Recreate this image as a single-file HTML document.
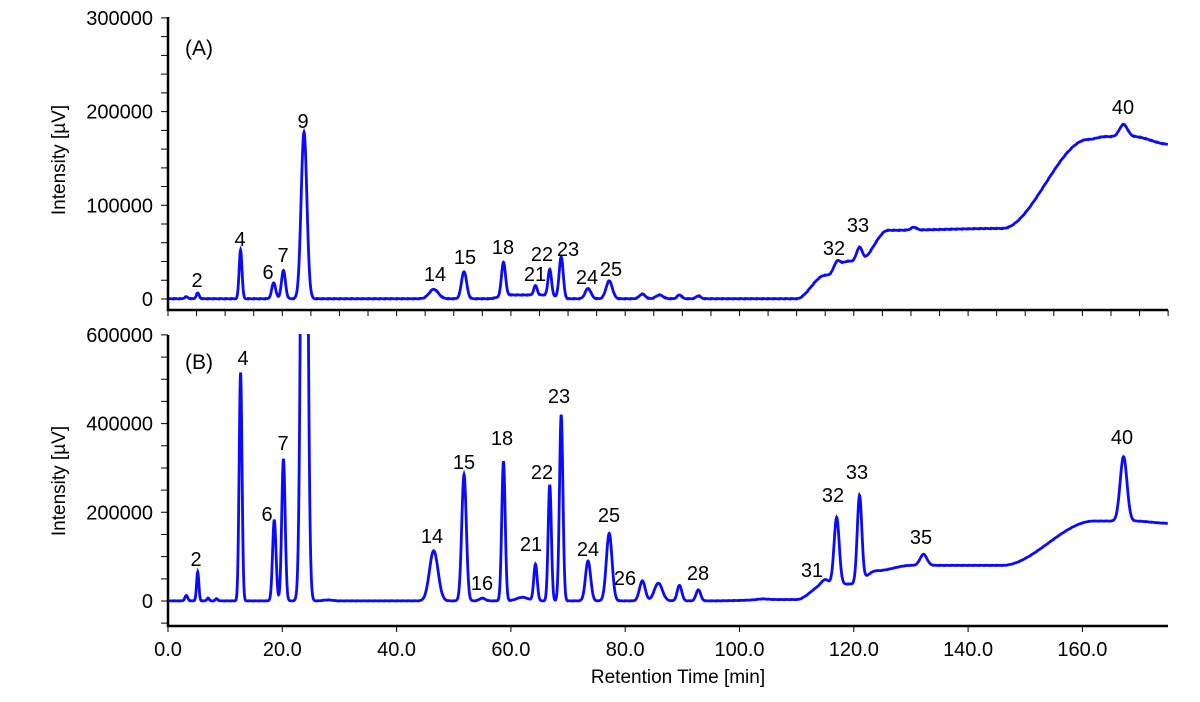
<!DOCTYPE html>
<html><head><meta charset="utf-8"><style>
body{margin:0;background:#fff;}
svg text{font-family:"Liberation Sans",Tahoma,sans-serif;fill:#000;}
</style></head><body>
<svg id="s" width="1200" height="697" xmlns="http://www.w3.org/2000/svg">
<defs>
<clipPath id="ca"><rect x="168" y="10" width="1000" height="300"/></clipPath>
<clipPath id="cb"><rect x="168" y="334" width="1000" height="292"/></clipPath>
</defs>
<g id="g"></g>
</svg>
<script>
var X0=168,PX=114.3/20;
function xp(t){return X0+t*PX;}
function ya(v){return 299-v*0.000937;}
function yb(v){return 601-v*(88.7/200000);}
function smooth(a,b,t){if(t<=a)return 0;if(t>=b)return 1;var u=(t-a)/(b-a);return u*u*(3-2*u);}
function g(t,c,h,s){var d=(t-c)/s;return h*Math.exp(-0.5*d*d);}
var pkA=[[3.2,2000,.3],[5.2,6000,.25],[12.7,52000,.25],[18.5,17000,.35],[20.2,30000,.35],[23.8,178000,.5],[46.5,10000,.8],[51.8,29000,.45],[58.7,36000,.35],[64.3,10000,.3],[66.8,28000,.3],[68.8,44000,.35],[73.5,11000,.5],[77.2,19000,.55],[83,5000,.5],[86,4000,.6],[89.5,4000,.4],[92.8,3000,.4],[117,11000,.6],[121,15000,.5],[130.5,3000,.5],[167.2,13000,.7]];
var pkB=[[3.2,12000,.25],[5.2,65000,.2],[7,6000,.2],[8.5,5000,.2],[12.7,515000,.25],[18.6,183000,.3],[20.2,320000,.3],[23.85,2200000,.45],[46.5,113000,.75],[51.8,285000,.4],[55,6000,.5],[58.7,315000,.3],[62,8000,1],[64.3,82000,.3],[66.8,262000,.28],[68.8,420000,.3],[73.5,90000,.45],[77.2,152000,.5],[83,45000,.5],[85.8,40000,.7],[89.5,35000,.4],[92.8,25000,.4],[104,2000,1],[115,10000,.6],[117,150000,.45],[121,195000,.4],[132.2,25000,.6],[167.2,145000,.6]];
function baseA(t){var b=0;b+=4000*smooth(56,60,t)*(1-smooth(66,70,t));
b+=25000*smooth(110,115,t);b+=15000*smooth(116,119,t);b+=33000*smooth(121,126,t);
b+=2000*smooth(126,146,t);b+=95000*smooth(146,161,t);b+=3000*smooth(161,164,t);b-=8000*smooth(169,175,t);return b;}
function baseB(t){var b=2000*smooth(26,28,t)*(1-smooth(28,30,t));b+=3000*smooth(95,108,t);
b+=35000*smooth(110,115,t);b+=30000*smooth(120,124,t);b+=12000*smooth(124,130,t);b+=100000*smooth(146,162,t);b-=5000*smooth(169,175,t);return b;}
function path(pk,base,yf){var d="";for(var t=0;t<=175;t+=0.05){var v=base(t);for(var i=0;i<pk.length;i++){var p=pk[i];if(Math.abs(t-p[0])<6*p[2])v+=g(t,p[0],p[1],p[2]);}
v+=((t*7919)%1)*600;var y=yf(v);if(y<-50)y=-50;d+=(d?"L":"M")+xp(t).toFixed(2)+" "+y.toFixed(2);}return d;}
var h="";
h+='<path d="'+path(pkA,baseA,ya)+'" fill="none" stroke="#0a0aff" stroke-width="2.8" clip-path="url(#ca)"/>';
h+='<path d="'+path(pkB,baseB,yb)+'" fill="none" stroke="#0a0aff" stroke-width="2.8" clip-path="url(#cb)"/>';
h+='<path d="M168 17V310H1168M168 335V626H1168" fill="none" stroke="#000" stroke-width="2.5"/>';
var tk="";
for(var v=0;v<=300000;v+=20000){var y=ya(v);tk+="M161 "+y+"H168";}
for(var v=-50000;v<=600000;v+=50000){var y=yb(v);tk+="M161 "+y+"H168";}
for(var t=0;t<=175;t+=5){var x=xp(t);tk+="M"+x+" 310V316";}
for(var t=0;t<=175;t+=20){var x=xp(t);tk+="M"+x+" 626V632";}
h+='<path d="'+tk+'" stroke="#000" stroke-width="1"/>';
[0,100000,200000,300000].forEach(function(v){h+='<text x="153" y="'+(ya(v)+7)+'" font-size="20" text-anchor="end">'+v+'</text>';});
[0,200000,400000,600000].forEach(function(v){h+='<text x="153" y="'+(yb(v)+7)+'" font-size="20" text-anchor="end">'+v+'</text>';});
for(var t=0;t<=160;t+=20){h+='<text x="'+xp(t)+'" y="656" font-size="20" text-anchor="middle">'+t.toFixed(1)+'</text>';}
h+='<text x="678" y="683" font-size="19" text-anchor="middle">Retention Time [min]</text>';
h+='<text transform="translate(65,160) rotate(-90)" font-size="19" text-anchor="middle">Intensity [µV]</text>';
h+='<text transform="translate(65,481) rotate(-90)" font-size="19" text-anchor="middle">Intensity [µV]</text>';
h+='<text x="185" y="55" font-size="21">(A)</text><text x="185" y="369" font-size="21">(B)</text>';
var la=[["2",197,287],["4",240,246],["6",268,279],["7",283,262],["9",303,128],["14",435,281],["15",465,264],["18",503,254],["21",535,281],["22",542,261],["23",568,256],["24",587,284],["25",611,276],["32",834,255],["33",858,232],["40",1123,114]];
var lb=[["2",196,566],["4",243,365],["6",267,521],["7",283,450],["14",432,543],["15",464,469],["16",482,590],["18",502,445],["21",531,551],["22",542,479],["23",559,403],["24",588,556],["25",609,522],["26",625,585],["28",698,580],["31",812,577],["32",833,502],["33",857,479],["35",921,544],["40",1122,444]];
la.concat(lb).forEach(function(l){h+='<text x="'+l[1]+'" y="'+l[2]+'" font-size="20" text-anchor="middle">'+l[0]+'</text>';});
document.getElementById("g").innerHTML=h;
</script>
</body></html>
